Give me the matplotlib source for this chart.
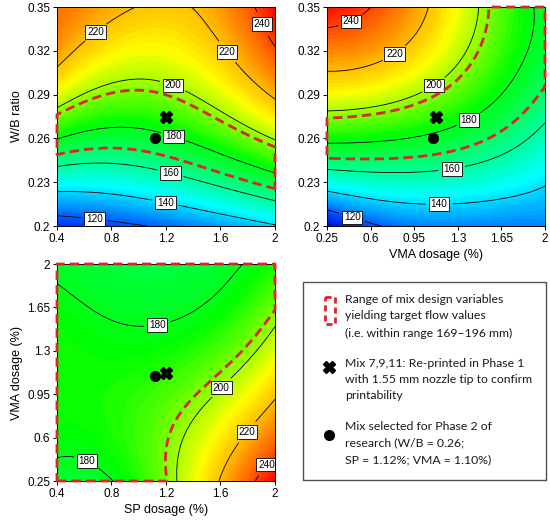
import numpy as np
import matplotlib
matplotlib.use("Agg")
import matplotlib.pyplot as plt
from matplotlib.colors import LinearSegmentedColormap
from matplotlib.patches import Rectangle

plt.rcParams['font.family'] = ['Liberation Sans', 'DejaVu Sans']

# design variable grids (values read at the tick positions)
sp_grid = [0.4, 0.8, 1.2, 1.6, 2.0]
wb_grid = [0.2, 0.23, 0.26, 0.29, 0.32, 0.35]
vma_grid = [0.25, 0.6, 0.95, 1.3, 1.65, 2.0]

# flow (mm), rows = y grid, cols = x grid
flow_sp_wb = [[111, 117, 122, 131, 139],
              [148, 147, 152, 162, 173],
              [180, 177, 178, 190, 201],
              [207, 195, 195, 207, 222],
              [226, 212, 208, 218, 238],
              [233, 225, 216, 228, 252]]

flow_vma_wb = [[100, 117, 126, 127, 125, 127],
               [149, 152, 152, 150, 148, 141],
               [183, 183, 181, 176, 167, 155],
               [208, 207, 201, 190, 181, 168],
               [230, 225, 215, 202, 188, 174],
               [250, 240, 226, 209, 191, 177]]

flow_sp_vma = [[177, 179.5, 197, 220, 252],
               [181, 184, 194, 212, 233],
               [186, 187, 190, 203, 219],
               [185, 185, 185, 190, 205],
               [181.5, 177, 176, 184, 196],
               [178, 175, 175, 177, 185]]

levels = [120, 140, 160, 180, 200, 220, 240]
target_low, target_high = 169, 196

# mixes: reprinted centre point and the selected mix
reprint = {"sp": 1.2, "vma": 1.125, "wb": 0.275}
selected = {"sp": 1.12, "vma": 1.10, "wb": 0.26}

cmap = LinearSegmentedColormap.from_list(
    "de", [(0.0, "#0000e0"), (0.12, "#0050ff"), (0.3, "#00ffff"),
           (0.55, "#00ff00"), (0.72, "#ffff00"), (1.0, "#ff0000")])


def smooth_field(xs, ys, values, n=260):
    # least squares bicubic surface through the read grid values
    xs = np.asarray(xs, float)
    ys = np.asarray(ys, float)
    z = np.asarray(values, float)
    sx = lambda v: 2 * (v - xs[0]) / (xs[-1] - xs[0]) - 1
    sy = lambda v: 2 * (v - ys[0]) / (ys[-1] - ys[0]) - 1
    gx, gy = np.meshgrid(xs, ys)
    V = np.polynomial.polynomial.polyvander2d(sx(gx.ravel()), sy(gy.ravel()), [3, 3])
    coef = np.linalg.lstsq(V, z.ravel(), rcond=None)[0]
    fx = np.linspace(xs[0], xs[-1], n)
    fy = np.linspace(ys[0], ys[-1], n)
    FX, FY = np.meshgrid(fx, fy)
    Vf = np.polynomial.polynomial.polyvander2d(sx(FX.ravel()), sy(FY.ravel()), [3, 3])
    return fx, fy, (Vf @ coef).reshape(FX.shape)


def target_outline(ax, fx, fy, Z):
    g = np.minimum(Z - target_low, target_high - Z)
    dx = (fx[-1] - fx[0]) * 0.001
    dy = (fy[-1] - fy[0]) * 0.001
    px = np.concatenate([[fx[0] - dx], fx, [fx[-1] + dx]])
    py = np.concatenate([[fy[0] - dy], fy, [fy[-1] + dy]])
    G = np.full((len(py), len(px)), -1000.0)
    G[1:-1, 1:-1] = g
    cs = ax.contour(px, py, G, levels=[0], colors='#d8262b', linewidths=2.0,
                    linestyles=[(0, (3.4, 1.8))], zorder=6)
    cs.set_clip_on(False)


def draw_panel(ax, xs, ys, values, label_pos, mx, my):
    fx, fy, Z = smooth_field(xs, ys, values)
    ax.contourf(fx, fy, Z, levels=np.linspace(100, 252, 90), cmap=cmap, extend='both')
    cs = ax.contour(fx, fy, Z, levels=levels, colors='black', linewidths=0.6)
    txt = ax.clabel(cs, fmt='%d', fontsize=7.2, inline=True, manual=label_pos)
    for t in txt:
        t.set_rotation(0)
        t.set_bbox(dict(boxstyle='square,pad=0.18', fc='white', ec='black', lw=0.6))
    target_outline(ax, fx, fy, Z)
    ax.plot(mx[0], my[0], marker='X', color='black', markersize=9, linestyle='none', zorder=7)
    ax.plot(mx[1], my[1], marker='o', color='black', markersize=7, linestyle='none', zorder=7)
    ax.set_xlim(xs[0], xs[-1])
    ax.set_ylim(ys[0], ys[-1])
    ax.set_xticks(xs)
    ax.set_yticks(ys)
    ax.tick_params(direction='out', length=3, width=0.7, labelsize=8.5, pad=2)
    for s in ax.spines.values():
        s.set_linewidth(0.7)


fig = plt.figure(figsize=(5.5, 5.25), dpi=100)

ax1 = fig.add_axes([0.1036, 0.5695, 0.3964, 0.4171])
draw_panel(ax1, sp_grid, wb_grid, flow_sp_wb,
           [(0.68, 0.2075), (1.2, 0.2183), (1.24, 0.2389), (1.264, 0.2641),
            (1.25, 0.2963), (0.70, 0.331), (1.655, 0.3199), (1.924, 0.339)],
           [reprint["sp"], selected["sp"]], [reprint["wb"], selected["wb"]])
ax1.set_xticklabels(["0.4", "0.8", "1.2", "1.6", "2"])
ax1.set_yticklabels(["0.2", "0.23", "0.26", "0.29", "0.32", "0.35"])
ax1.set_ylabel("W/B ratio", fontsize=9, labelpad=3)

ax2 = fig.add_axes([0.5945, 0.5695, 0.3964, 0.4171])
draw_panel(ax2, vma_grid, wb_grid, flow_vma_wb,
           [(0.432, 0.342), (0.78, 0.3196), (1.106, 0.2967), (1.382, 0.2739),
            (1.248, 0.2414), (1.149, 0.2188), (0.459, 0.2076)],
           [reprint["vma"], selected["vma"]], [reprint["wb"], selected["wb"]])
ax2.set_xticklabels(["0.25", "0.6", "0.95", "1.3", "1.65", "2"])
ax2.set_yticklabels(["0.2", "0.23", "0.26", "0.29", "0.32", "0.35"])
ax2.set_xlabel("VMA dosage (%)", fontsize=9, labelpad=3)

ax3 = fig.add_axes([0.1036, 0.0838, 0.3964, 0.4133])
draw_panel(ax3, sp_grid, vma_grid, flow_sp_vma,
           [(1.134, 1.523), (0.645, 0.468), (1.574, 1.039), (1.777, 0.662), (1.936, 0.385)],
           [reprint["sp"], selected["sp"]], [reprint["vma"], selected["vma"]])
ax3.set_xticklabels(["0.4", "0.8", "1.2", "1.6", "2"])
ax3.set_yticklabels(["0.25", "0.6", "0.95", "1.3", "1.65", "2"])
ax3.set_xlabel("SP dosage (%)", fontsize=9, labelpad=3)
ax3.set_ylabel("VMA dosage (%)", fontsize=9, labelpad=3)

# legend panel
leg = fig.add_axes([0.5509, 0.0857, 0.4418, 0.3772])
leg.set_xlim(0, 243)
leg.set_ylim(198, 0)
leg.axis('off')
leg.add_patch(Rectangle((0, 0), 243, 198, fill=False, ec='#505050', lw=1.0, clip_on=False))
leg.add_patch(Rectangle((22, 15), 10, 27, fill=False, ec='#d8262b', lw=2.0,
                        linestyle=(0, (2.2, 1.4)), clip_on=False))
leg.plot(26, 85, marker='X', color='black', markersize=8)
leg.plot(26, 153, marker='o', color='black', markersize=7)

legend_lines = [
    (18, "Range of mix design variables"),
    (34, "yielding target flow values"),
    (51, "(i.e. within range 169\u2013196 mm)"),
    (82, "Mix 7,9,11: Re-printed in Phase 1"),
    (98, "with 1.55 mm nozzle tip to confirm"),
    (114, "printability"),
    (145, "Mix selected for Phase 2 of"),
    (161, "research (W/B = 0.26;"),
    (178, "SP = 1.12%; VMA = 1.10%)"),
]
for y, s in legend_lines:
    leg.text(42, y, s, fontsize=8.8, va='center', ha='left', color='#1a1a1a',
             family=['Lato', 'DejaVu Sans'])

fig.savefig("out.png", dpi=100)
